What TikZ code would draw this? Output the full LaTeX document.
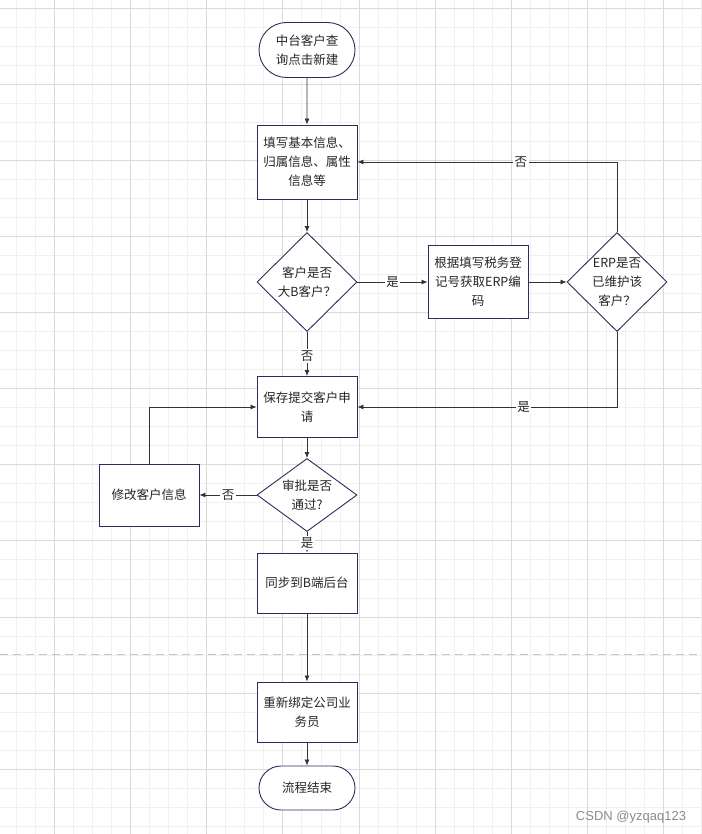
\documentclass[tikz,border=0pt]{standalone}
\usepackage{fontspec}
\setmainfont{Noto Sans CJK SC}
\newfontfamily\markfont{Liberation Sans}
\usetikzlibrary{shapes.geometric,shapes.misc,arrows.meta}
\pgfdeclarelayer{background}
\pgfsetlayers{background,main}
\definecolor{nodeline}{HTML}{2B2E5C}
\definecolor{gridminor}{HTML}{F0F0F0}
\definecolor{gridmajor}{HTML}{DADADA}
\definecolor{dashgray}{HTML}{C4C4C4}

\begin{document}
\begin{tikzpicture}[x=1pt,y=-1pt,
  every node/.style={font=\fontsize{12.5}{19}\selectfont, text=black!85},
  procbox/.style={rectangle, draw=nodeline, line width=0.9pt, fill=white, minimum width=100pt, align=center, inner sep=2pt},
  termnode/.style={rounded rectangle, draw=nodeline, line width=0.9pt, fill=white, minimum width=100pt, align=center, inner sep=2pt},
  decision/.style={diamond, draw=nodeline, line width=0.9pt, fill=white, minimum width=100pt, align=center, inner sep=0pt},
  flow/.style={draw=black!80, line width=0.8pt, -{Latex[length=6pt,width=5pt]}},
  flowlabel/.style={fill=white, inner sep=1.5pt}]
\useasboundingbox (0,0) rectangle (701,834);

\begin{pgfonlayer}{background}
\fill[white] (0,0) rectangle (701,834);
% grid
\foreach \i in {-2,...,34}
  \draw[gridminor, line width=0.8pt] ({54.5+19.03*\i},0) -- ({54.5+19.03*\i},834);
\foreach \j in {0,...,43}
  \draw[gridminor, line width=0.8pt] (0,{8+19.03*\j}) -- (701,{8+19.03*\j});
\foreach \i in {0,...,8}
  \draw[gridmajor, line width=0.8pt] ({54.5+76.12*\i},0) -- ({54.5+76.12*\i},834);
\foreach \j in {0,...,10}
  \draw[gridmajor, line width=0.8pt] (0,{8+76.12*\j}) -- (701,{8+76.12*\j});
\draw[dashgray, line width=1pt, dash pattern=on 8pt off 5pt] (0,654) -- (701,654);
\end{pgfonlayer}

\node[termnode, minimum height=55pt] (start) at (307,50) {中台客户查\\询点击新建};
\node[procbox, minimum height=74pt] (fill) at (307,162) {填写基本信息、\\归属信息、属性\\信息等};
\node[decision, minimum height=99pt] (bigb) at (307,282) {客户是否\\大B客户？};
\node[procbox, minimum height=73pt] (erpcode) at (478,282) {根据填写税务登\\记号获取ERP编\\码};
\node[decision, minimum height=99pt] (erpchk) at (617,282) {ERP是否\\已维护该\\客户？};
\node[procbox, minimum height=61pt] (save) at (307,407) {保存提交客户申\\请};
\node[decision, minimum height=73pt, aspect=1.37] (approve) at (307,495) {审批是否\\通过?};
\node[procbox, minimum height=62pt] (modify) at (149,495) {修改客户信息};
\node[procbox, minimum height=60pt] (sync) at (307,583) {同步到B端后台};
\node[procbox, minimum height=60pt] (rebind) at (307,712) {重新绑定公司业\\务员};
\node[termnode, minimum height=44pt] (finish) at (307,788) {流程结束};
\node[font=\markfont\fontsize{13}{15}\selectfont, text=black!45] (mark) at (631,817) {CSDN @yzqaq123};

\draw[flow] (start) -- (fill);
\draw[flow] (fill) -- (bigb);
\draw[flow] (bigb) -- node[flowlabel]{是} (erpcode);
\draw[flow] (erpcode) -- (erpchk);
\draw[flow] (erpchk.north) |- node[flowlabel, pos=0.685]{否} (fill.east);
\draw[flow] (erpchk.south) |- node[flowlabel, pos=0.68]{是} (save.east);
\draw[flow] (bigb) -- node[flowlabel, pos=0.55]{否} (save);
\draw[flow] (save) -- (approve);
\draw[flow] (approve) -- node[flowlabel]{否} (modify);
\draw[flow] (modify.north) |- (save.west);
\draw[flow] (approve) -- node[flowlabel, pos=0.55]{是} (sync);
\draw[flow] (sync) -- (rebind);
\draw[flow] (rebind) -- (finish);
\end{tikzpicture}
\end{document}
